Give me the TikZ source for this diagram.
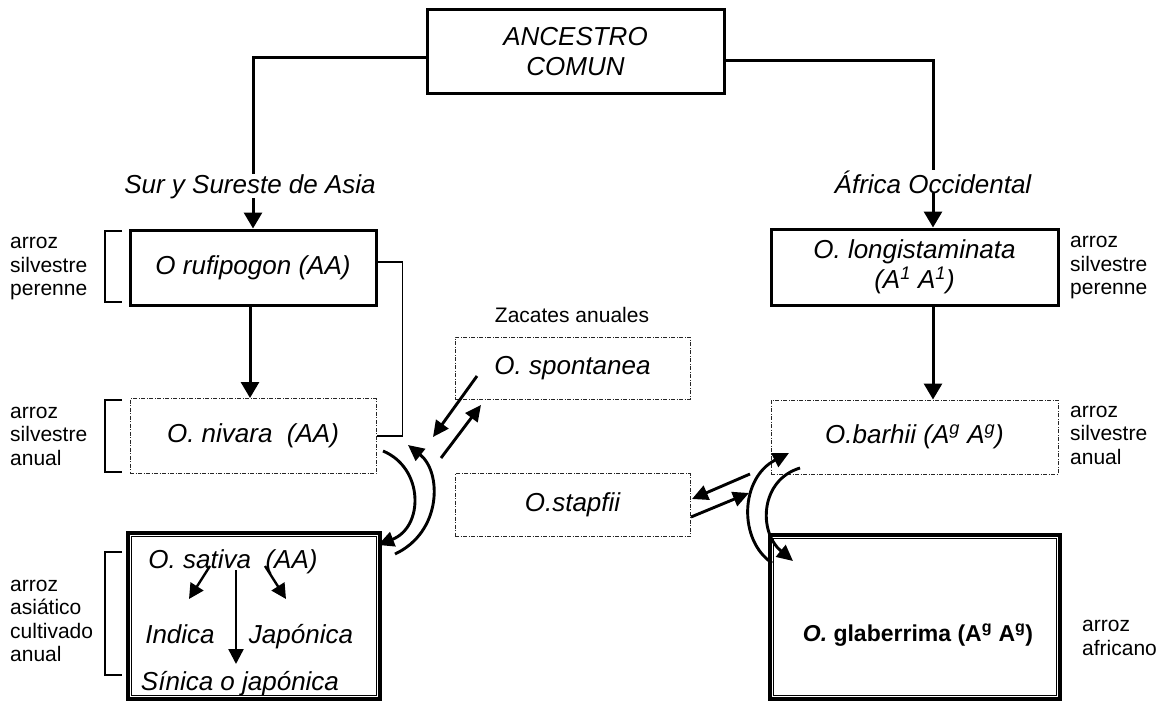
\documentclass[tikz,border=0pt]{standalone}
\usepackage{fontspec}
\setmainfont{Liberation Sans}
\usetikzlibrary{arrows.meta}
\begin{document}
\begin{tikzpicture}[x=1pt,y=-1pt,
  box/.style={draw,line width=3pt,inner sep=0pt,font=\fontsize{26}{30}\selectfont\itshape,align=center},
  dbox/.style={draw=black!85,line width=1pt,dash pattern=on 4pt off 1.5pt on 1pt off 1.5pt,inner sep=0pt,font=\fontsize{26}{30}\selectfont\itshape,align=center},
  dblbox/.style={draw,line width=3.2pt,inner sep=0pt},
  lbl/.style={font=\fontsize{21}{23.5}\selectfont,align=left,inner sep=0pt,anchor=west},
  arr/.style={line width=3pt,-{Triangle[length=16pt,width=18pt]}},
  sarr/.style={line width=2.9pt,-{Triangle[length=16pt,width=15pt]}},
  iarr/.style={line width=2.4pt,-{Triangle[length=15pt,width=15pt]}},
  thinl/.style={line width=1.6pt},
  txt/.style={font=\fontsize{26}{30}\selectfont\itshape,inner sep=1pt}
]
\useasboundingbox (0,0) rectangle (1156,701);

% main boxes
\node[box,minimum width=297pt,minimum height=83pt] (anc) at (575.5,51.5) {ANCESTRO\\COMUN};
\node[box,minimum width=246pt,minimum height=75pt] (ruf) at (253,267.5) {O rufipogon (AA)};
\node[dbox,minimum width=246pt,minimum height=75pt] (niv) at (253,436) {O. nivara\ \ (AA)};
\node[box,minimum width=287pt,minimum height=76pt] (lon) at (914.5,267) {O. longistaminata\\(A\textsuperscript{1} A\textsuperscript{1})};
\node[dbox,minimum width=287pt,minimum height=74pt] (bar) at (914.5,437) {O.barhii (A\textsuperscript{g} A\textsuperscript{g})};
\node[dbox,minimum width=235pt,minimum height=62pt] (spo) at (572.5,368) {O. spontanea};
\node[dbox,minimum width=235pt,minimum height=63pt] (sta) at (572.5,505) {O.stapfii};
\node[font=\fontsize{21}{23.5}\selectfont,inner sep=0pt] (zac) at (572,315) {Zacates anuales};

% double boxes
\node[dblbox,minimum width=252pt,minimum height=166pt] (sat) at (254,616) {};
\draw[line width=1.2pt] ([shift={(5,5)}]sat.north west) rectangle ([shift={(-5,-5)}]sat.south east);
\node[dblbox,minimum width=290pt,minimum height=164pt] (gla) at (915,617) {};
\draw[line width=1.2pt] ([shift={(5,5)}]gla.north west) rectangle ([shift={(-5,-5)}]gla.south east);
\node[font=\fontsize{23}{27}\selectfont\bfseries,inner sep=0pt] (glat) at (918,635) {\textit{O.} glaberrima (A\textsuperscript{g} A\textsuperscript{g})};

% texts inside sativa
\node[txt,anchor=base] (satt) at (233,568) {O. sativa\ \ (AA)};
\node[txt,anchor=base] (ind) at (180,643) {Indica};
\node[txt,anchor=base] (jap) at (301,643) {Japónica};
\node[txt,anchor=base] (sin) at (240,690) {Sínica o japónica};

% connectors from ancestor
\coordinate (lonin) at ([xshift=18.5pt]lon.north);
\coordinate (lonout) at ([xshift=18.5pt]lon.south);
\draw[arr] ([yshift=-6.5pt]anc.west) -| (ruf.north);
\draw[arr] ([yshift=-9.5pt]anc.east) -| (lonin);
\node[txt,fill=white,inner ysep=0pt,anchor=base] (sur) at (250,193) {Sur y Sureste de Asia};
\node[txt,fill=white,inner ysep=0pt,anchor=base] (afr) at (933,193) {África Occidental};

% vertical arrows
\draw[arr] ([xshift=-3pt]ruf.south) -- ([xshift=-3pt]niv.north);
\draw[arr] (lonout) -- (lonout |- bar.north);

% thin connector rufipogon - nivara
\draw[thinl] ([yshift=5.5pt]ruf.east) -- ++(25,0) |- (niv.east);

% brackets
\draw[thinl] (122,231) -- (105,231) -- (105,302) -- (122,302);
\draw[thinl] (122,400) -- (105,400) -- (105,472) -- (122,472);
\draw[thinl] (122,552) -- (105,552) -- (105,675) -- (122,675);

% side labels
\node[lbl] (l1) at (10,269) {arroz\\silvestre\\perenne};
\node[lbl] (l2) at (10,436) {arroz\\silvestre\\anual};
\node[lbl] (l3) at (10,621) {arroz\\asiático\\cultivado\\anual};
\node[lbl] (r1) at (1070,268) {arroz\\silvestre\\perenne};
\node[lbl] (r2) at (1070,435) {arroz\\silvestre\\anual};
\node[lbl] (r3) at (1082,638) {arroz\\africano};

% spontanea <-> nivara
\coordinate (s1a) at (477,376); \coordinate (s1b) at (433,437);
\coordinate (s2a) at (441,458); \coordinate (s2b) at (481,405);
\draw[sarr] (s1a) -- (s1b);
\draw[sarr] (s2a) -- (s2b);

% stapfii <-> barhii
\coordinate (t1a) at (750,474); \coordinate (t1b) at (692,499);
\coordinate (t2a) at (691,517); \coordinate (t2b) at (749,493);
\draw[sarr] (t1a) -- (t1b);
\draw[sarr] (t2a) -- (t2b);

% curved arrows left (nivara <-> sativa)
\coordinate (c1a) at (383,451); \coordinate (c1b) at (378,545);
\coordinate (c2a) at (395,554); \coordinate (c2b) at (408,445);
\draw[sarr] (c1a) .. controls (424,468) and (424,527) .. (c1b);
\draw[sarr] (c2a) .. controls (442,532) and (442,472) .. (c2b);

% curved arrows right (barhii <-> glaberrima)
\coordinate (d1a) at (772,563); \coordinate (d1b) at (789,453);
\coordinate (d2a) at (800,468); \coordinate (d2b) at (793,561);
\draw[sarr] (d1a) .. controls (738,540) and (740,478) .. (d1b);
\draw[sarr] (d2a) .. controls (760,480) and (758,532) .. (d2b);

% arrows inside sativa
\coordinate (i1a) at (210,566); \coordinate (i1b) at (189,599);
\coordinate (i2a) at (265,566); \coordinate (i2b) at (286,599);
\coordinate (i3a) at (236,570); \coordinate (i3b) at (236,664);
\draw[iarr] (i1a) -- (i1b);
\draw[iarr] (i2a) -- (i2b);
\draw[iarr] (i3a) -- (i3b);
\end{tikzpicture}
\end{document}
